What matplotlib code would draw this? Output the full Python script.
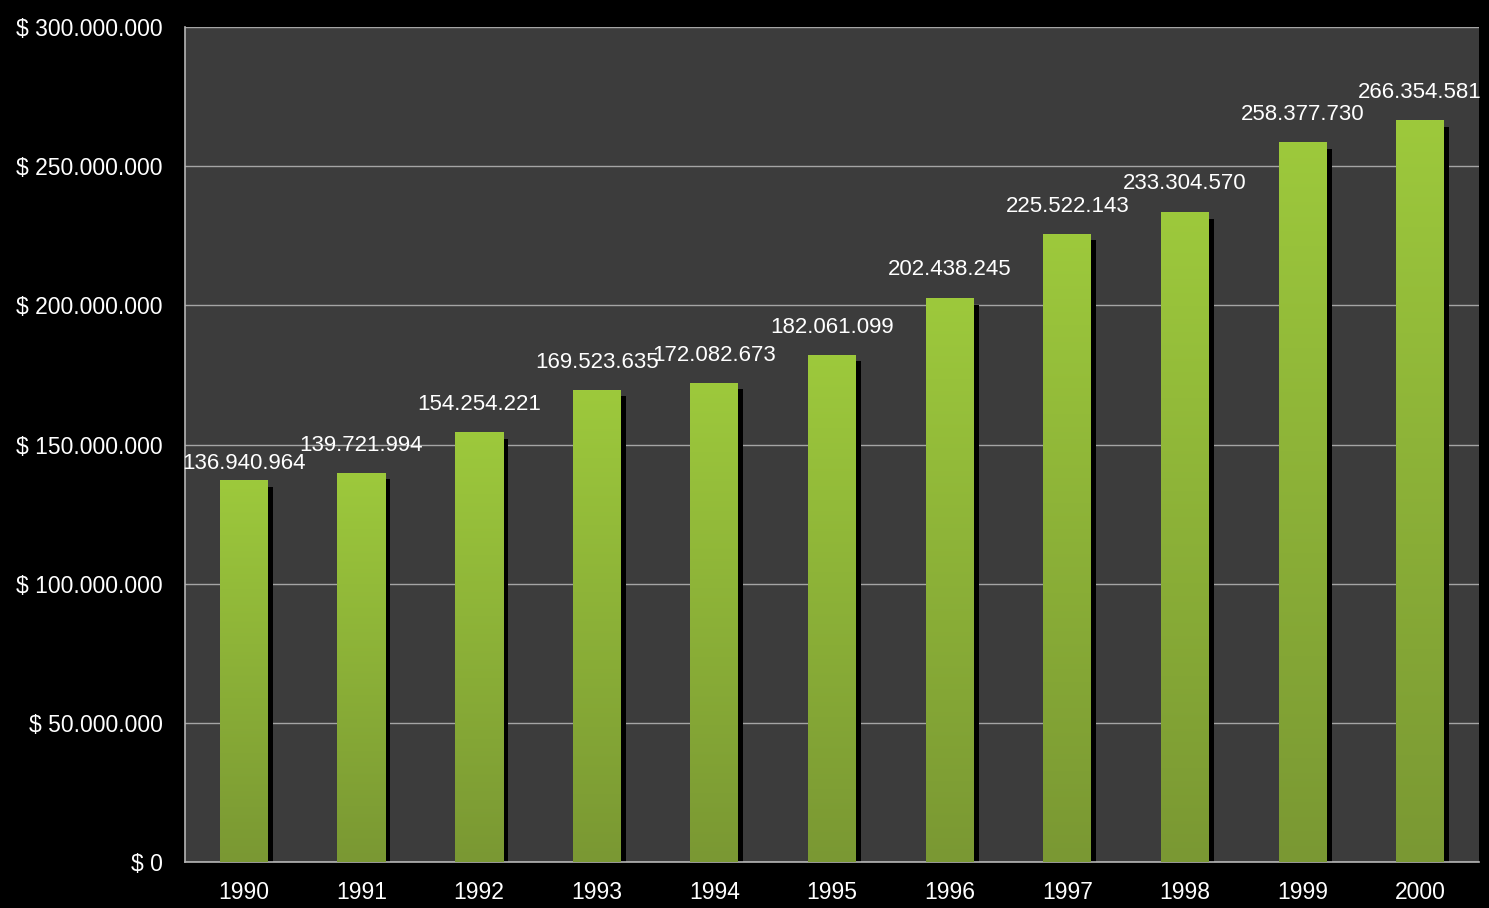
import matplotlib
matplotlib.use("Agg")
import matplotlib.pyplot as plt
import numpy as np
from matplotlib.colors import LinearSegmentedColormap

years = ["1990", "1991", "1992", "1993", "1994", "1995", "1996", "1997", "1998", "1999", "2000"]
values = [136940964, 139721994, 154254221, 169523635, 172082673, 182061099,
          202438245, 225522143, 233304570, 258377730, 266354581]
y_ticks = [0, 50000000, 100000000, 150000000, 200000000, 250000000, 300000000]


def fmt_money(v):
    s = f"{v:,}".replace(",", ".")
    return f"$ {s}"


def fmt_num(v):
    return f"{v:,}".replace(",", ".")


plt.rcParams['font.family'] = ['Liberation Sans', 'DejaVu Sans']

W, H, DPI = 1489, 908, 100
fig = plt.figure(figsize=(W / DPI, H / DPI), dpi=DPI, facecolor='black')
ax = fig.add_axes([185 / W, (H - 862) / H, (1479 - 185) / W, (862 - 27) / H])
ax.set_facecolor('#3c3c3c')

ymax = 300000000
n = len(years)
ax.set_xlim(0, n)
ax.set_ylim(0, ymax)

ax_h_px = 862 - 27
px_y = ymax / ax_h_px           # data units per pixel (y)
px_x = n / (1479 - 185)         # data units per pixel (x)

bar_w = 48 * px_x
shadow_w = 5 * px_x
shadow_drop = 6 * px_y

cmap = LinearSegmentedColormap.from_list('g', ['#7a9833', '#9dc93c'])
grad = np.linspace(0, 1, 256).reshape(-1, 1)

ax.set_yticks(y_ticks)
ax.yaxis.grid(True, color='#a5a5a5', linewidth=1.0)
ax.set_axisbelow(True)

label_offsets = [17, 28, 28, 28, 28, 28, 29, 28, 29, 28, 28]

for i, (yr, v) in enumerate(zip(years, values)):
    xc = i + 0.5
    x0 = xc - bar_w / 2
    x1 = xc + bar_w / 2
    # shadow
    ax.add_patch(plt.Rectangle((x1, 0), shadow_w, v - shadow_drop,
                               facecolor='black', edgecolor='none', zorder=2))
    # gradient bar
    ax.imshow(grad, extent=(x0, x1, 0, v), origin='lower', aspect='auto',
              cmap=cmap, zorder=3, interpolation='bilinear')
    ax.text(xc, v + label_offsets[i] * px_y, fmt_num(v), ha='center', va='center',
            color='white', fontsize=16, zorder=5, clip_on=False)

ax.set_xlim(0, n)
ax.set_ylim(0, ymax)
ax.set_xticks([i + 0.5 for i in range(n)])
ax.set_xticklabels(years)
ax.set_yticklabels([fmt_money(v) for v in y_ticks])
ax.tick_params(axis='both', length=0, colors='white', labelsize=16.5)
ax.tick_params(axis='y', pad=16)
ax.tick_params(axis='x', pad=14)

for side in ['top', 'right']:
    ax.spines[side].set_visible(False)
for side in ['left', 'bottom']:
    ax.spines[side].set_color('#b5b5b5')
    ax.spines[side].set_linewidth(1.2)

fig.savefig('out.png', dpi=DPI, facecolor='black')
